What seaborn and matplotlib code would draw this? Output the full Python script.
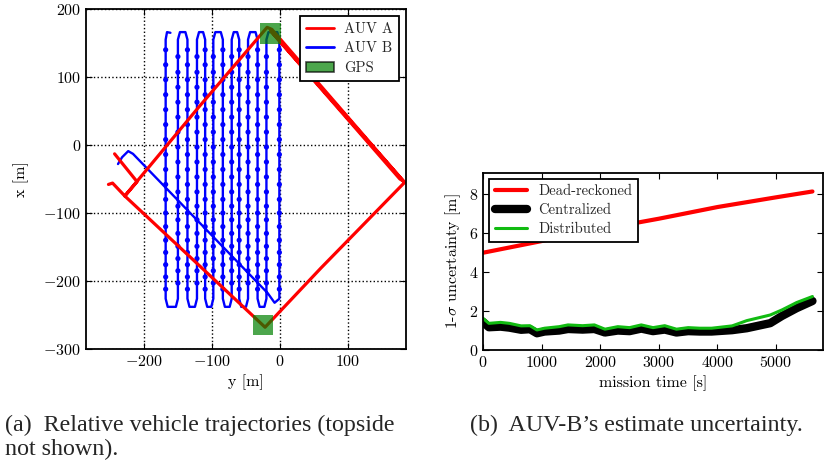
import numpy as np
import pandas as pd
import matplotlib
matplotlib.use("Agg")
import matplotlib.pyplot as plt
from matplotlib.patches import Patch, Rectangle
from matplotlib.lines import Line2D
import seaborn as sns

# ==========================================
# DATA
# ==========================================
# AUV A waypoints: east (y) / north (x) [m]
auv_a_y = [-252, -246, -228, -120, -19, -12, 181, 176, -14, 183, 60, -22, -120, -228, -210, -243]
auv_a_x = [-58, -56, -75, 55, 173, 170, -53, -50, 168, -55, -181, -268, -176, -75, -54, -13]

# AUV B: transit leg, then lawnmower legs (east position of each leg)
auv_b_start_y = [-238, -232, -223, -216, -18, -8]
auv_b_start_x = [-28, -18, -9, -13, -218, -232]
legs_y = [-1, -20, -33, -47, -60, -71, -84, -98, -110, -122, -136, -150, -168]
leg_top, leg_bot = 155, -226
turn_top, turn_bot = 166, -238
auv_b_hook_y = [-166, -161]
auv_b_hook_x = [166, 165]
# rows of position fixes along the legs
fix_rows_a = [140, 118, 96, 74, 52, 30, 8, -14, -36, -58, -80, -100, -120, -140, -158, -176, -194, -212]
fix_rows_b = [130, 107, 85, 63, 41, 19, -3, -25, -47, -69, -90, -110, -130, -149, -167, -185, -203]

# GPS fixes (centre y, centre x) and box size
gps_y = [-14, -25]
gps_x = [164, -265]
gps_size = 30

# right panel
t_dr = [0, 1000, 2000, 3000, 4000, 5000, 5620]
dead_reckoned = [5.0, 5.6, 6.2, 6.75, 7.35, 7.85, 8.15]
t_est = [0, 100, 300, 450, 650, 800, 920, 1050, 1300, 1450, 1700, 1900, 2080, 2300,
         2500, 2700, 2900, 3100, 3300, 3500, 3700, 3900, 4250, 4500, 4900, 5100, 5350, 5620]
distributed = [1.63, 1.37, 1.42, 1.37, 1.24, 1.25, 1.03, 1.12, 1.2, 1.29, 1.25, 1.29, 1.07, 1.2,
               1.15, 1.29, 1.15, 1.25, 1.07, 1.15, 1.12, 1.12, 1.24, 1.51, 1.8, 2.06, 2.44, 2.75]
centralized = [1.45, 1.17, 1.2, 1.15, 1.04, 1.07, 0.86, 0.95, 1.0, 1.08, 1.05, 1.08, 0.9, 1.0,
               0.97, 1.1, 0.97, 1.05, 0.9, 0.97, 0.95, 0.95, 1.02, 1.12, 1.38, 1.75, 2.15, 2.52]

# ==========================================
# STYLE
# ==========================================
sns.set_style("ticks")
plt.rcParams.update({
    "font.family": "serif",
    "font.serif": ["cmr10"],
    "mathtext.fontset": "cm",
    "axes.formatter.use_mathtext": True,
    "font.size": 11.5,
    "axes.linewidth": 1.3,
    "axes.edgecolor": "black",
    "xtick.direction": "in",
    "ytick.direction": "in",
    "xtick.top": True,
    "ytick.right": True,
    "xtick.major.size": 4,
    "ytick.major.size": 4,
    "xtick.color": "black",
    "ytick.color": "black",
    "axes.labelcolor": "black",
})

fig = plt.figure(figsize=(8.24, 4.63), dpi=100)

# ==========================================
# (a) TRAJECTORIES
# ==========================================
ax1 = fig.add_axes([86 / 824, 114 / 463, 320 / 824, 340 / 463])

# build AUV B path
by, bx = list(auv_b_start_y), list(auv_b_start_x)
for i, yl in enumerate(legs_y):
    if i % 2 == 0:
        by += [yl, yl]
        bx += [leg_bot, leg_top]
        if i + 1 < len(legs_y):
            by += [yl - 3, legs_y[i + 1] + 3]
            bx += [turn_top, turn_top]
    else:
        by += [yl, yl]
        bx += [leg_top, leg_bot]
        if i + 1 < len(legs_y):
            by += [yl - 3, legs_y[i + 1] + 3]
            bx += [turn_bot, turn_bot]
by += auv_b_hook_y
bx += auv_b_hook_x

traj_b = pd.DataFrame({"y": by, "x": bx})
sns.lineplot(data=traj_b, x="y", y="x", sort=False, estimator=None,
             color="blue", lw=1.7, ax=ax1)

fixes = pd.DataFrame(
    [(yl, r) for i, yl in enumerate(legs_y)
     for r in (fix_rows_a if i % 2 == 0 else fix_rows_b)],
    columns=["y", "x"])
sns.scatterplot(data=fixes, x="y", y="x", color="blue", s=14,
                edgecolor="none", ax=ax1)

traj_a = pd.DataFrame({"y": auv_a_y, "x": auv_a_x})
sns.lineplot(data=traj_a, x="y", y="x", sort=False, estimator=None,
             color="red", lw=2.3, ax=ax1)

for gy, gx in zip(gps_y, gps_x):
    ax1.add_patch(Rectangle((gy - gps_size / 2, gx - gps_size / 2), gps_size, gps_size,
                            facecolor="green", edgecolor="none", alpha=0.7, zorder=5))

ax1.set_xlim(-285, 185)
ax1.set_ylim(-300, 200)
ax1.set_xticks([-200, -100, 0, 100])
ax1.set_yticks([-300, -200, -100, 0, 100, 200])
ax1.grid(True, color="black", linestyle=":", linewidth=1)
ax1.set_xlabel("y [m]")
ax1.set_ylabel("x [m]", labelpad=10)

handles = [Line2D([], [], color="red", lw=2),
           Line2D([], [], color="blue", lw=2),
           Patch(facecolor="green", edgecolor="black", alpha=0.7, lw=1.2)]
leg1 = ax1.legend(handles, ["AUV A", "AUV B", "GPS"], loc="upper right",
                  fancybox=False, framealpha=1, edgecolor="black",
                  fontsize=10.5, borderaxespad=0.5, handlelength=1.9,
                  handletextpad=0.7, borderpad=0.4, labelspacing=0.4)
leg1.get_frame().set_linewidth(1.3)

# ==========================================
# (b) UNCERTAINTY
# ==========================================
ax2 = fig.add_axes([483 / 824, 113 / 463, 340 / 824, 177 / 463])

dr_df = pd.DataFrame({"t": t_dr, "s": dead_reckoned})
est_df = pd.DataFrame({"t": t_est, "cen": centralized, "dis": distributed})

sns.lineplot(data=dr_df, x="t", y="s", color="red", lw=3, ax=ax2, label="Dead-reckoned")
sns.lineplot(data=est_df, x="t", y="cen", color="black", lw=6, ax=ax2, label="Centralized")
sns.lineplot(data=est_df, x="t", y="dis", color="#11bb11", lw=2.2, ax=ax2, label="Distributed")

ax2.set_xlim(0, 5800)
ax2.set_ylim(0, 9.1)
ax2.set_xticks([0, 1000, 2000, 3000, 4000, 5000])
ax2.set_yticks([0, 2, 4, 6, 8])
ax2.set_xlabel("mission time [s]")
ax2.set_ylabel(r"1-$\sigma$ uncertainty [m]")
leg2 = ax2.legend(loc="upper left", fancybox=False, framealpha=1, edgecolor="black",
                  fontsize=10.5, borderaxespad=0.4, handlelength=2.2,
                  borderpad=0.4, labelspacing=0.35)
leg2.get_frame().set_linewidth(1.3)

# ==========================================
# CAPTIONS
# ==========================================
cap = dict(family="Liberation Serif", fontsize=17.3, va="baseline", ha="left")
fig.text(5 / 824, 1 - 431 / 463, "(a)  Relative vehicle trajectories (topside", **cap)
fig.text(5 / 824, 1 - 455 / 463, "not shown).", **cap)
fig.text(470 / 824, 1 - 431 / 463, "(b)  AUV-B\u2019s estimate uncertainty.", **cap)

fig.savefig("out.png", dpi=100)
